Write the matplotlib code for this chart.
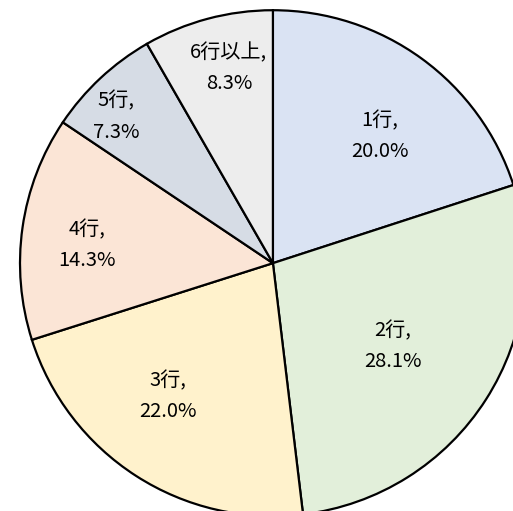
import numpy as np
import matplotlib
matplotlib.use("Agg")
import matplotlib.pyplot as plt

plt.rcParams['font.family'] = ['Noto Sans CJK JP', 'DejaVu Sans']

categories = ['1行', '2行', '3行', '4行', '5行', '6行以上']
shares = [20.0, 28.1, 22.0, 14.3, 7.3, 8.3]
colors = ['#DAE3F3', '#E2EFDA', '#FFF2CC', '#FBE5D6', '#D6DCE5', '#EDEDED']

# label placement tweaks (radius fraction, angle nudge in degrees)
label_dist = [0.656, 0.577, 0.670, 0.739, 0.850, 0.790]
label_nudge = [-4.1, -2.1, -5.5, 2.6, 3.9, -2.2]

fig = plt.figure(figsize=(5.13, 5.11), dpi=100)
ax = fig.add_axes([0.532 - 0.493, 0.485 - 0.495, 0.986, 0.990])

wedges, _ = ax.pie(shares, colors=colors, startangle=90, counterclock=False,
                   wedgeprops=dict(edgecolor='black', linewidth=1.6))

for w, cat, val, d, n in zip(wedges, categories, shares, label_dist, label_nudge):
    mid = np.deg2rad((w.theta1 + w.theta2) / 2 + n)
    ax.text(d * np.cos(mid), d * np.sin(mid), f'{cat},\n{val:.1f}%',
            ha='center', va='center', fontsize=14.5, linespacing=1.65,
            color='black')

ax.set_xlim(-1, 1)
ax.set_ylim(-1, 1)
ax.set_aspect('auto')
ax.axis('off')

fig.savefig('out.png', dpi=100)
